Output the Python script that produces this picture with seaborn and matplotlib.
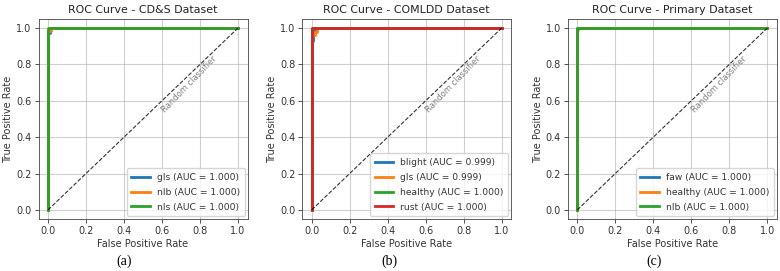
import matplotlib
matplotlib.use("Agg")
import matplotlib.pyplot as plt
import seaborn as sns
import pandas as pd

# ---- data ----
titles = ["ROC Curve - CD&S Dataset", "ROC Curve - COMLDD Dataset", "ROC Curve - Primary Dataset"]
panel_tags = ["(a)", "(b)", "(c)"]

cds_classes = ["gls", "nlb", "nls"]
cds_auc = [1.000, 1.000, 1.000]
cds_fpr = [[0.0, 0.0, 0.01, 0.01, 1.0], [0.0, 0.0, 0.018, 0.018, 1.0], [0.0, 0.0, 1.0]]
cds_tpr = [[0.0, 0.975, 0.975, 1.0, 1.0], [0.0, 0.985, 0.985, 1.0, 1.0], [0.0, 1.0, 1.0]]

com_classes = ["blight", "gls", "healthy", "rust"]
com_auc = [0.999, 0.999, 1.000, 1.000]
com_fpr = [[0.0, 0.0, 0.008, 0.008, 0.015, 0.015, 1.0],
           [0.0, 0.0, 0.015, 0.015, 0.03, 0.03, 1.0],
           [0.0, 0.0, 1.0],
           [0.0, 0.0, 1.0]]
com_tpr = [[0.0, 0.93, 0.93, 0.98, 0.98, 1.0, 1.0],
           [0.0, 0.96, 0.96, 0.98, 0.98, 1.0, 1.0],
           [0.0, 1.0, 1.0],
           [0.0, 1.0, 1.0]]

pri_classes = ["faw", "healthy", "nlb"]
pri_auc = [1.000, 1.000, 1.000]
pri_fpr = [[0.0, 0.0, 1.0], [0.0, 0.0, 0.006, 0.006, 1.0], [0.0, 0.0, 1.0]]
pri_tpr = [[0.0, 1.0, 1.0], [0.0, 0.99, 0.99, 1.0, 1.0], [0.0, 1.0, 1.0]]

panels = [
    (cds_classes, cds_auc, cds_fpr, cds_tpr),
    (com_classes, com_auc, com_fpr, com_tpr),
    (pri_classes, pri_auc, pri_fpr, pri_tpr),
]

# ---- layout ----
W, H = 780, 271
fig = plt.figure(figsize=(W / 100, H / 100), dpi=100)
plt.rcParams['font.family'] = ['DejaVu Sans']

axes_px = [(38.5, 247.5), (302.2, 511.2), (567.8, 776.8)]
top_px, bot_px = 18.9, 219.0
tag_x = [124, 389, 654]
colors = sns.color_palette("tab10")

for i, (classes, aucs, fprs, tprs) in enumerate(panels):
    l, r = axes_px[i]
    ax = fig.add_axes([l / W, 1 - bot_px / H, (r - l) / W, (bot_px - top_px) / H])
    rows = []
    for c, a, f, t in zip(classes, aucs, fprs, tprs):
        lab = f"{c} (AUC = {a:.3f})"
        for k, (fx, ty) in enumerate(zip(f, t)):
            rows.append({"fpr": fx, "tpr": ty, "cls": lab, "order": k})
    df = pd.DataFrame(rows)
    sns.lineplot(data=df, x="fpr", y="tpr", hue="cls", sort=False, estimator=None,
                 units="cls", palette=colors[:len(classes)], linewidth=2, ax=ax)
    ax.plot([0, 1], [0, 1], 'k--', linewidth=0.8, alpha=0.8)
    ax.text(0.745, 0.69, "Random classifier", rotation=46, rotation_mode='anchor',
            ha='center', va='center', color='gray', fontsize=6)
    ax.set_xlim(-0.05, 1.05)
    ax.set_ylim(-0.05, 1.05)
    ax.set_xticks([0, 0.2, 0.4, 0.6, 0.8, 1.0])
    ax.set_yticks([0, 0.2, 0.4, 0.6, 0.8, 1.0])
    ax.tick_params(labelsize=7, length=3, width=0.6, pad=2, colors='#333333', labelcolor='#333333')
    ax.grid(True, color='#b0b0b0', alpha=0.6, linewidth=0.8)
    for s in ax.spines.values():
        s.set_linewidth(0.6)
        s.set_color('#444444')
    ax.set_title(titles[i], fontsize=7.9, pad=4, color='#222222')
    ax.set_xlabel("False Positive Rate", fontsize=7, labelpad=2, color='#333333')
    ax.set_ylabel("True Positive Rate", fontsize=7, labelpad=2, color='#333333')
    leg = ax.legend(loc='lower right', fontsize=6.6, title=None, handlelength=2.0,
                    borderaxespad=0.3, labelspacing=0.65, borderpad=0.5)
    for t in leg.get_texts():
        t.set_color('#333333')
    for h in leg.get_lines():
        h.set_linewidth(2)
    fig.text(tag_x[i] / W, 1 - 261 / H, panel_tags[i], ha='center', va='center',
             fontsize=10, family=['Liberation Serif'])

fig.savefig("out.png", dpi=100)
